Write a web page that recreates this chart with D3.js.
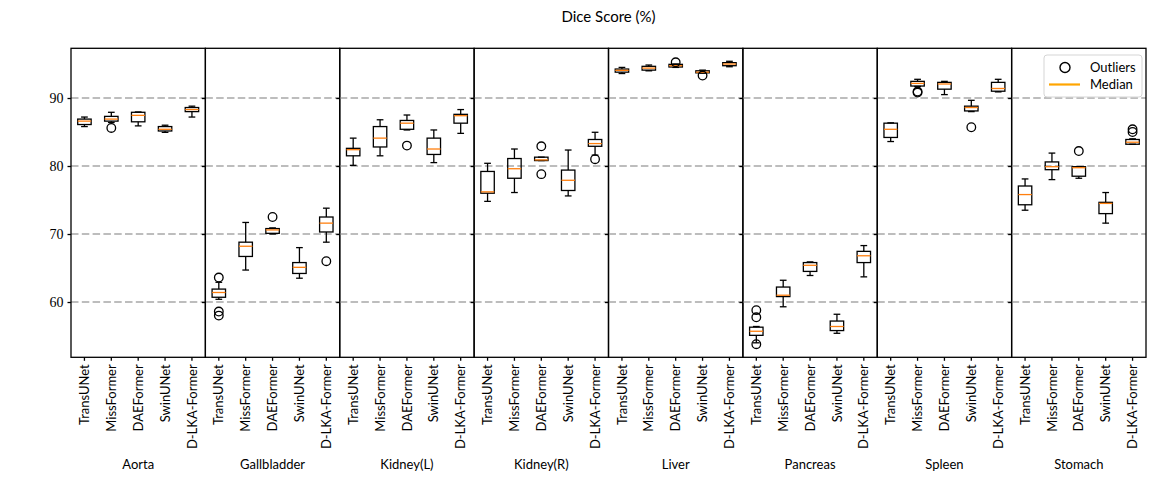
<!DOCTYPE html>
<html lang="en">
<head>
    <meta charset="UTF-8">
    <title>Dice Score (%)</title>
    <script src="https://cdn.jsdelivr.net/npm/d3@7"></script>
    <style>
        body {
            margin: 0;
            padding: 0;
            background: #fff;
        }
        svg text {
            font-family: 'Lato', 'DejaVu Sans', sans-serif;
            fill: #000;
        }
    </style>
</head>
<body>
    <svg id="chart"></svg>

    <script>
        // organs (panels) and models (boxes in every panel)
        const organs = ["Aorta", "Gallbladder", "Kidney(L)", "Kidney(R)", "Liver", "Pancreas", "Spleen", "Stomach"];
        const models = ["TransUNet", "MissFormer", "DAEFormer", "SwinUNet", "D-LKA-Former"];
        const yTicks = [60, 70, 80, 90];

        // box statistics, one row per organ, one value per model
        const whiskerLow = [
            [85.8, 86.4, 85.9, 84.95, 87.2],
            [60.4, 64.7, 70.0, 63.5, 68.8],
            [80.1, 81.5, 85.3, 80.5, 84.8],
            [74.8, 76.1, 80.8, 75.6, 81.6],
            [93.6, 94.0, 94.5, 93.65, 94.6],
            [54.0, 59.3, 63.9, 55.4, 63.7],
            [83.6, 91.7, 90.5, 88.0, 90.9],
            [73.5, 78.0, 78.2, 71.6, 83.2]
        ];
        const q1 = [
            [86.1, 86.6, 86.5, 85.15, 88.0],
            [60.7, 66.7, 70.1, 64.2, 70.3],
            [81.5, 82.8, 85.4, 81.7, 86.3],
            [76.0, 78.2, 80.8, 76.4, 82.9],
            [93.8, 94.1, 94.56, 93.7, 94.75],
            [55.1, 60.8, 64.5, 55.8, 65.8],
            [84.2, 91.76, 91.3, 88.1, 91.0],
            [74.3, 79.46, 78.5, 73.0, 83.2]
        ];
        const medians = [
            [86.6, 86.9, 87.45, 85.4, 88.3],
            [61.4, 68.2, 70.6, 65.1, 71.6],
            [82.4, 84.1, 86.3, 82.5, 87.4],
            [76.2, 79.6, 80.9, 77.9, 83.3],
            [94.07, 94.4, 94.75, 93.8, 95.0],
            [55.7, 61.0, 65.4, 56.4, 66.8],
            [85.4, 92.15, 92.06, 88.6, 91.4],
            [75.8, 79.9, 79.75, 74.5, 83.5]
        ];
        const q3 = [
            [86.9, 87.3, 87.9, 85.8, 88.6],
            [61.9, 68.8, 70.8, 65.8, 72.5],
            [82.6, 85.8, 86.7, 84.1, 87.6],
            [79.2, 81.1, 81.3, 79.4, 83.9],
            [94.26, 94.66, 94.95, 94.0, 95.2],
            [56.3, 62.2, 65.8, 57.2, 67.45],
            [86.3, 92.45, 92.3, 88.8, 92.3],
            [77.06, 80.6, 79.9, 74.66, 83.9]
        ];
        const whiskerHigh = [
            [87.2, 87.9, 87.95, 86.0, 88.8],
            [62.9, 71.7, 70.9, 68.0, 73.8],
            [84.1, 86.8, 87.5, 85.3, 88.3],
            [80.4, 82.5, 81.3, 82.35, 84.96],
            [94.5, 94.85, 95.0, 94.1, 95.4],
            [56.4, 63.2, 65.9, 58.2, 68.3],
            [86.35, 92.75, 92.45, 89.66, 92.75],
            [78.1, 81.9, 79.9, 76.1, 84.0]
        ];
        const outliers = [
            [[], [85.6], [], [], []],
            [[63.6, 58.6, 58.0], [], [72.5], [], [66.0]],
            [[], [], [83.0], [], []],
            [[], [], [82.9, 78.8], [], [81.0]],
            [[], [], [95.25], [93.3], []],
            [[58.8, 57.75, 53.8], [], [], [], []],
            [[], [90.8, 90.95], [], [85.7], []],
            [[], [], [82.2], [], [85.4, 85.0]]
        ];

        const width = 1174;
        const height = 491;
        const plotLeft = 71, plotRight = 1146, plotTop = 48.3, plotBottom = 357.3;
        const lw = 1.3;

        const svg = d3.select("#chart")
            .attr("width", width)
            .attr("height", height);

        const xOrgan = d3.scaleBand()
            .domain(organs)
            .range([plotLeft, plotRight])
            .padding(0);

        const xModel = d3.scaleBand()
            .domain(models)
            .range([0, xOrgan.bandwidth()])
            .padding(0);

        const y = d3.scaleLinear()
            .domain([51.87, 97.31])
            .range([plotBottom, plotTop]);

        const boxWidth = xModel.bandwidth() * 0.5;
        const capWidth = boxWidth * 0.5;

        // flatten into one record per box
        const boxes = [];
        organs.forEach((organ, i) => {
            models.forEach((model, j) => {
                boxes.push({
                    organ, model,
                    lo: whiskerLow[i][j], q1: q1[i][j], med: medians[i][j],
                    q3: q3[i][j], hi: whiskerHigh[i][j],
                    out: outliers[i][j]
                });
            });
        });

        // Title
        svg.append("text")
            .attr("x", (plotLeft + plotRight) / 2)
            .attr("y", 22)
            .attr("text-anchor", "middle")
            .style("font-size", "15px")
            .text("Dice Score (%)");

        // one group per organ panel
        const panel = svg.selectAll("g.panel")
            .data(organs)
            .enter().append("g")
            .attr("class", "panel")
            .attr("transform", d => `translate(${xOrgan(d)},0)`);

        // dashed grid
        panel.each(function(organ) {
            d3.select(this).selectAll("line.grid")
                .data(yTicks)
                .enter().append("line")
                .attr("class", "grid")
                .attr("x1", 0)
                .attr("x2", xOrgan.bandwidth())
                .attr("y1", d => y(d))
                .attr("y2", d => y(d))
                .attr("stroke", "#bdbdbd")
                .attr("stroke-width", 1.8)
                .attr("stroke-dasharray", "7.5,3.3");
        });

        // y axes (labels only on the first panel)
        panel.each(function(organ, i) {
            const axis = d3.axisLeft(y)
                .tickValues(yTicks)
                .tickSize(3.5)
                .tickPadding(4)
                .tickFormat(i === 0 ? d3.format("d") : () => "");
            const g = d3.select(this).append("g")
                .call(axis);
            g.select(".domain").remove();
            g.selectAll("line").attr("stroke", "#000").attr("stroke-width", lw);
            g.selectAll("text")
                .style("font-family", "'Liberation Serif', 'DejaVu Serif', serif")
                .style("font-size", "14px");
        });

        // x axes with rotated model names
        panel.each(function(organ) {
            const g = d3.select(this).append("g")
                .attr("transform", `translate(0,${plotBottom})`)
                .call(d3.axisBottom(xModel).tickSize(3.5).tickPadding(0));
            g.select(".domain").remove();
            g.selectAll("line").attr("stroke", "#000").attr("stroke-width", lw);
            g.selectAll("text")
                .attr("transform", "rotate(-90)")
                .attr("text-anchor", "end")
                .attr("x", -7)
                .attr("y", 0)
                .attr("dy", "0.35em")
                .style("font-size", "13px");

            d3.select(this).append("text")
                .attr("x", xOrgan.bandwidth() / 2)
                .attr("y", 469)
                .attr("text-anchor", "middle")
                .style("font-size", "13px")
                .text(organ);
        });

        // boxes
        const box = svg.selectAll("g.box")
            .data(boxes)
            .enter().append("g")
            .attr("class", "box")
            .attr("stroke-width", lw)
            .attr("transform", d => `translate(${xOrgan(d.organ) + xModel(d.model) + xModel.bandwidth() / 2},0)`);

        // whiskers
        box.append("line")
            .attr("x1", 0).attr("x2", 0)
            .attr("y1", d => y(d.q1)).attr("y2", d => y(d.lo))
            .attr("stroke", "#000");
        box.append("line")
            .attr("x1", 0).attr("x2", 0)
            .attr("y1", d => y(d.q3)).attr("y2", d => y(d.hi))
            .attr("stroke", "#000");
        // caps
        box.append("line")
            .attr("x1", -capWidth / 2).attr("x2", capWidth / 2)
            .attr("y1", d => y(d.lo)).attr("y2", d => y(d.lo))
            .attr("stroke", "#000");
        box.append("line")
            .attr("x1", -capWidth / 2).attr("x2", capWidth / 2)
            .attr("y1", d => y(d.hi)).attr("y2", d => y(d.hi))
            .attr("stroke", "#000");
        // box body
        box.append("rect")
            .attr("x", -boxWidth / 2)
            .attr("width", boxWidth)
            .attr("y", d => y(d.q3))
            .attr("height", d => Math.max(0.5, y(d.q1) - y(d.q3)))
            .attr("fill", "none")
            .attr("stroke", "#000");
        // median
        box.append("line")
            .attr("x1", -boxWidth / 2).attr("x2", boxWidth / 2)
            .attr("y1", d => y(d.med)).attr("y2", d => y(d.med))
            .attr("stroke", "#ff7f0e");
        // fliers
        box.selectAll("circle")
            .data(d => d.out)
            .enter().append("circle")
            .attr("cx", 0)
            .attr("cy", d => y(d))
            .attr("r", 4.3)
            .attr("fill", "none")
            .attr("stroke", "#000");

        // panel frames
        panel.append("rect")
            .attr("x", 0)
            .attr("y", plotTop)
            .attr("width", xOrgan.bandwidth())
            .attr("height", plotBottom - plotTop)
            .attr("fill", "none")
            .attr("stroke", "#000")
            .attr("stroke-width", lw);

        // legend
        const legend = svg.append("g")
            .attr("transform", "translate(1044,55)");
        legend.append("rect")
            .attr("width", 98)
            .attr("height", 42)
            .attr("rx", 3)
            .attr("fill", "#fff")
            .attr("fill-opacity", 0.8)
            .attr("stroke", "#d5d5d5");
        legend.append("circle")
            .attr("cx", 21)
            .attr("cy", 12.5)
            .attr("r", 5)
            .attr("fill", "none")
            .attr("stroke", "#000")
            .attr("stroke-width", 1.4);
        legend.append("text")
            .attr("x", 46)
            .attr("y", 17)
            .style("font-size", "13px")
            .text("Outliers");
        legend.append("line")
            .attr("x1", 5).attr("x2", 36)
            .attr("y1", 29.5).attr("y2", 29.5)
            .attr("stroke", "orange")
            .attr("stroke-width", 2.2);
        legend.append("text")
            .attr("x", 46)
            .attr("y", 34)
            .style("font-size", "13px")
            .text("Median");
    </script>
</body>
</html>
